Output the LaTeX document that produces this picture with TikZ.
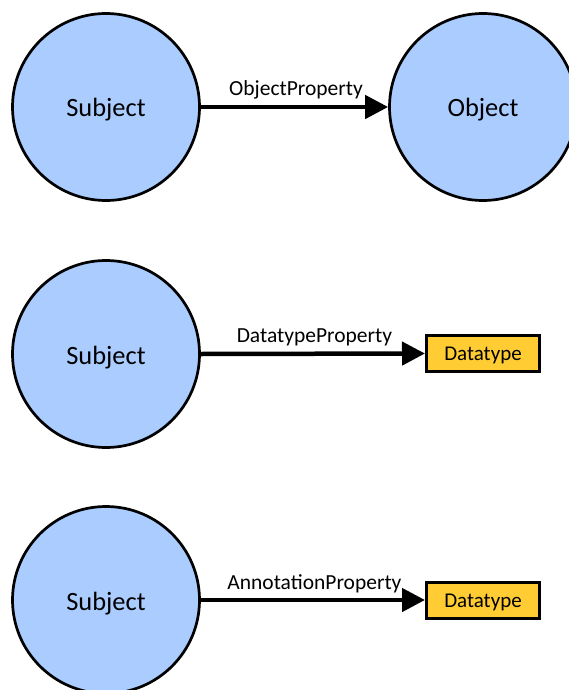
\documentclass[tikz,border=0pt]{standalone}
\usepackage{fontspec}
\setmainfont{Carlito}
\usetikzlibrary{arrows.meta}
\definecolor{circfill}{RGB}{170,204,255}
\definecolor{boxfill}{RGB}{255,204,51}
\tikzset{
  classnode/.style={circle, draw=black, line width=2.7pt, fill=circfill, minimum size=187pt, inner sep=0pt, text height=20pt, text depth=0pt, font=\fontsize{26.4}{30}\selectfont},
  typebox/.style={rectangle, draw=black, line width=3pt, fill=boxfill, minimum width=113pt, minimum height=36pt, inner sep=0pt, text height=14pt, text depth=0pt, font=\fontsize{21}{25}\selectfont},
  proparrow/.style={line width=4.5pt, -{Triangle[length=23pt,width=23pt]}},
  proplabel/.style={midway, anchor=base, yshift=11pt, xshift=1.5pt, inner sep=0pt, font=\fontsize{21.5}{25}\selectfont}
}
\begin{document}
\begin{tikzpicture}[x=1pt, y=-1pt]
\useasboundingbox (0,0) rectangle (569,690);
\node[classnode] (s1) at (106,107) {Subject};
\node[classnode] (o1) at (483,107) {Object};
\node[classnode] (s2) at (106,354) {Subject};
\node[typebox] (d2) at (483,353.5) {Datatype};
\node[classnode] (s3) at (106,600) {Subject};
\node[typebox] (d3) at (483,600) {Datatype};
\draw[proparrow] (s1) -- (o1) node[proplabel] {ObjectProperty};
\draw[proparrow] (s2.east) -- (d2.west) node[proplabel] {DatatypeProperty};
\draw[proparrow] (s3.east) -- (d3.west) node[proplabel] {AnnotationProperty};
\end{tikzpicture}
\end{document}
